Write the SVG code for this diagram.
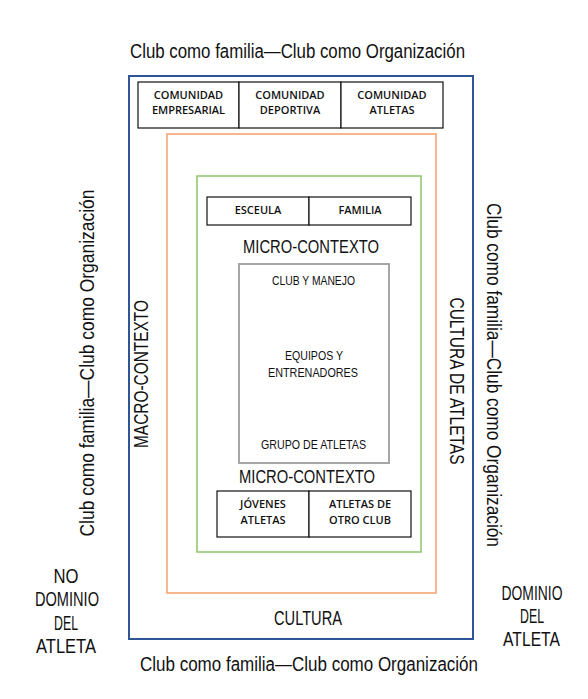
<svg xmlns="http://www.w3.org/2000/svg" width="588" height="699" viewBox="0 0 588 699">
<style>
.c{font-family:"Liberation Sans",Arial,sans-serif;fill:#111;text-anchor:middle;}
.b{font-family:"Open Sans","Noto Sans",sans-serif;font-weight:600;font-size:11px;fill:#111;text-anchor:middle;}
.box{fill:#fff;stroke:#111;stroke-width:1.2;}
</style>
<rect width="588" height="699" fill="#fff"/>
<g id="frames">
<rect id="blue" x="129" y="76" width="344" height="563" fill="none" stroke="#2F5597" stroke-width="2"/>
<rect id="orange" x="167" y="134" width="269" height="459" fill="none" stroke="#F4A06A" stroke-width="1.5"/>
<rect id="green" x="197" y="176" width="224" height="376" fill="none" stroke="#8DC36B" stroke-width="1.5"/>
<rect id="gray" x="239" y="264" width="150" height="199" fill="none" stroke="#A6A6A6" stroke-width="2"/>
</g>
<g id="connectors"></g>
<g id="titles">
<text class="c" x="297.5" y="58" font-size="20" textLength="335" lengthAdjust="spacingAndGlyphs">Club como familia—Club como Organización</text>
<text class="c" x="309" y="671" font-size="20" textLength="338" lengthAdjust="spacingAndGlyphs">Club como familia—Club como Organización</text>
<text class="c" transform="translate(94,363) rotate(-90)" font-size="20" textLength="347" lengthAdjust="spacingAndGlyphs">Club como familia—Club como Organización</text>
<text class="c" transform="translate(487,375) rotate(90)" font-size="20" textLength="344" lengthAdjust="spacingAndGlyphs">Club como familia—Club como Organización</text>
</g>
<g id="node-comunidades">
<rect class="box" x="138" y="82" width="101" height="46"/>
<rect class="box" x="239" y="82" width="102" height="46"/>
<rect class="box" x="341" y="82" width="102" height="46"/>
<text class="b" x="188.5" y="98.5">COMUNIDAD</text>
<text class="b" x="188.5" y="114">EMPRESARIAL</text>
<text class="b" x="290" y="98.5">COMUNIDAD</text>
<text class="b" x="290" y="114">DEPORTIVA</text>
<text class="b" x="392" y="98.5">COMUNIDAD</text>
<text class="b" x="392" y="114">ATLETAS</text>
</g>
<g id="node-macro">
<text class="c" transform="translate(148,374) rotate(-90)" font-size="19.5" textLength="148" lengthAdjust="spacingAndGlyphs">MACRO-CONTEXTO</text>
</g>
<g id="node-cultura-atletas">
<text class="c" transform="translate(450,381) rotate(90)" font-size="19.5" textLength="167" lengthAdjust="spacingAndGlyphs">CULTURA DE ATLETAS</text>
</g>
<g id="node-cultura">
<text class="c" x="308" y="625" font-size="19.5" textLength="68" lengthAdjust="spacingAndGlyphs">CULTURA</text>
</g>
<g id="node-escuela-familia">
<rect class="box" x="207" y="197" width="102" height="28"/>
<rect class="box" x="309" y="197" width="102" height="28"/>
<text class="b" x="258" y="213.5">ESCEULA</text>
<text class="b" x="360" y="213.5">FAMILIA</text>
</g>
<g id="node-micro-top">
<text class="c" x="311" y="253" font-size="19" textLength="136" lengthAdjust="spacingAndGlyphs">MICRO-CONTEXTO</text>
</g>
<g id="node-club">
<text class="c" x="313.5" y="285" font-size="13.5" textLength="83" lengthAdjust="spacingAndGlyphs">CLUB Y MANEJO</text>
<text class="c" x="314" y="360" font-size="13.5" textLength="58" lengthAdjust="spacingAndGlyphs">EQUIPOS Y</text>
<text class="c" x="313" y="377" font-size="13.5" textLength="90" lengthAdjust="spacingAndGlyphs">ENTRENADORES</text>
<text class="c" x="313.5" y="449" font-size="13.5" textLength="105" lengthAdjust="spacingAndGlyphs">GRUPO DE ATLETAS</text>
</g>
<g id="node-micro-bottom">
<text class="c" x="307" y="483" font-size="19" textLength="136" lengthAdjust="spacingAndGlyphs">MICRO-CONTEXTO</text>
</g>
<g id="node-jovenes-otro">
<rect class="box" x="217" y="491" width="92" height="46"/>
<rect class="box" x="309" y="491" width="102" height="46"/>
<text class="b" x="263" y="508">JÓVENES</text>
<text class="b" x="263" y="523.5">ATLETAS</text>
<text class="b" x="360" y="508">ATLETAS DE</text>
<text class="b" x="360" y="523.5">OTRO CLUB</text>
</g>
<g id="node-no-dominio">
<text class="c" x="66" y="583" font-size="19.5" textLength="25" lengthAdjust="spacingAndGlyphs">NO</text>
<text class="c" x="67" y="606" font-size="19.5" textLength="64" lengthAdjust="spacingAndGlyphs">DOMINIO</text>
<text class="c" x="66" y="630" font-size="19.5" textLength="24" lengthAdjust="spacingAndGlyphs">DEL</text>
<text class="c" x="66" y="653" font-size="19.5" textLength="60" lengthAdjust="spacingAndGlyphs">ATLETA</text>
</g>
<g id="node-dominio">
<text class="c" x="532" y="600" font-size="19.5" textLength="61" lengthAdjust="spacingAndGlyphs">DOMINIO</text>
<text class="c" x="532" y="623" font-size="19.5" textLength="24" lengthAdjust="spacingAndGlyphs">DEL</text>
<text class="c" x="531.5" y="646" font-size="19.5" textLength="57" lengthAdjust="spacingAndGlyphs">ATLETA</text>
</g>
</svg>
